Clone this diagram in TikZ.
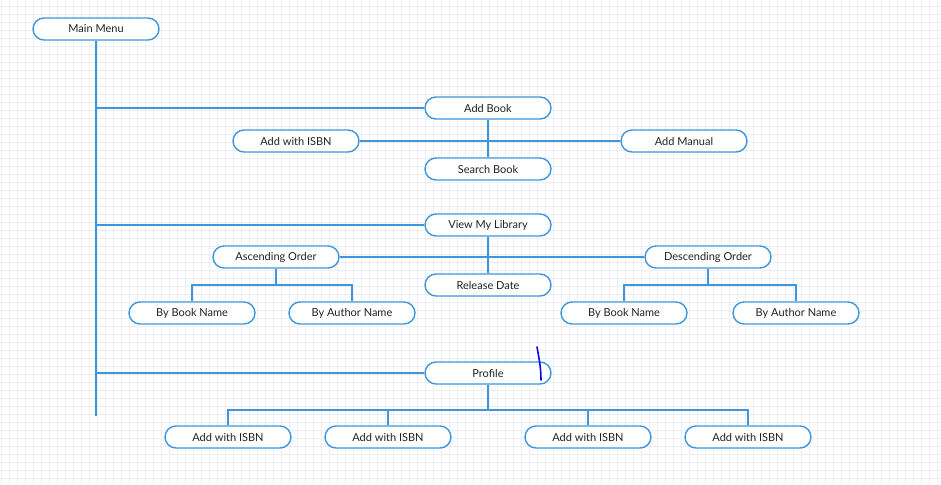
\documentclass[tikz,border=0pt]{standalone}
\usepackage{fontspec}
\setmainfont{Lato}
\usepackage{tikz}
\usetikzlibrary{backgrounds}

\definecolor{lineblue}{RGB}{62,150,222}
\definecolor{gridgray}{RGB}{238,238,242}
\definecolor{textgray}{RGB}{34,34,34}
\definecolor{penblue}{RGB}{10,10,235}

\tikzset{
  menu/.style={draw=lineblue, line width=1.4pt, fill=white, rounded corners=11pt,
    minimum width=126pt, minimum height=22pt, inner sep=0pt,
    font=\fontsize{11}{12}\selectfont, text=textgray},
  link/.style={draw=lineblue, line width=1.7pt}
}

\begin{document}
\begin{tikzpicture}[x=1pt,y=-1pt]
      \useasboundingbox (0,0) rectangle (941,484);
      % grid
      \begin{pgfonlayer}{background}
      \fill[white] (0,0) rectangle (941,484);
      \foreach \gx in {1,9,...,941} \draw[gridgray, line width=0.5pt] (\gx,0) -- (\gx,484);
      \foreach \gy in {6,14,...,484} \draw[gridgray, line width=0.5pt] (0,\gy) -- (941,\gy);
      \end{pgfonlayer}

      % main menu
      \node[menu]       (main) at (96,29) {Main Menu};
      \coordinate       (trunkend) at (96,416);

      % add book
      \node[menu]       (addbook) at (488,108) {Add Book};
      \node[menu]       (isbn) at (296,141) {Add with ISBN};
      \node[menu]       (manual) at (684,141) {Add Manual};
      \node[menu]       (search) at (488,169) {Search Book};

      % view my library
      \node[menu]       (library) at (488,225) {View My Library};
      \node[menu]       (asc) at (276,257) {Ascending Order};
      \node[menu]       (desc) at (708,257) {Descending Order};
      \node[menu]       (release) at (488,285) {Release Date};
      \node[menu]       (ascbook) at (192,313) {By Book Name};
      \node[menu]       (ascauthor) at (352,313) {By Author Name};
      \node[menu]       (descbook) at (624,313) {By Book Name};
      \node[menu]       (descauthor) at (796,313) {By Author Name};
      \coordinate       (ascfork) at (276,285);
      \coordinate       (descfork) at (708,285);

      % profile
      \node[menu]       (profile) at (488,373) {Profile};
      \node[menu]       (pisbn1) at (228,437) {Add with ISBN};
      \node[menu]       (pisbn2) at (388,437) {Add with ISBN};
      \node[menu]       (pisbn3) at (588,437) {Add with ISBN};
      \node[menu]       (pisbn4) at (748,437) {Add with ISBN};
      \coordinate       (profork) at (488,410);

      % connectors
      \begin{pgfonlayer}{background}
      \draw[link]       (main.south) -- (trunkend);
      \draw[link]       (main.south |- addbook.west) -- (addbook.west);
      \draw[link]       (main.south |- library.west) -- (library.west);
      \draw[link]       (main.south |- profile.west) -- (profile.west);
      \draw[link]       (addbook.south) -- (search.north);
      \draw[link]       (isbn.east) -- (manual.west);
      \draw[link]       (library.south) -- (release.north);
      \draw[link]       (asc.east) -- (desc.west);
      \draw[link]       (asc.south) -- (ascfork);
      \draw[link]       (ascbook.north) |- (ascfork) -| (ascauthor.north);
      \draw[link]       (desc.south) -- (descfork);
      \draw[link]       (descbook.north) |- (descfork) -| (descauthor.north);
      \draw[link]       (profile.south) -- (profork);
      \draw[link]       (pisbn1.north) |- (profork) -| (pisbn4.north);
      \draw[link]       (pisbn2.north) -- (pisbn2.north |- profork);
      \draw[link]       (pisbn3.north) -- (pisbn3.north |- profork);
      \end{pgfonlayer}

      % pen mark
      \draw[penblue, line width=1.6pt, line cap=round]
        (537,347) .. controls (539,358) and (541,368) .. (541,380);
    \end{tikzpicture}
\end{document}
